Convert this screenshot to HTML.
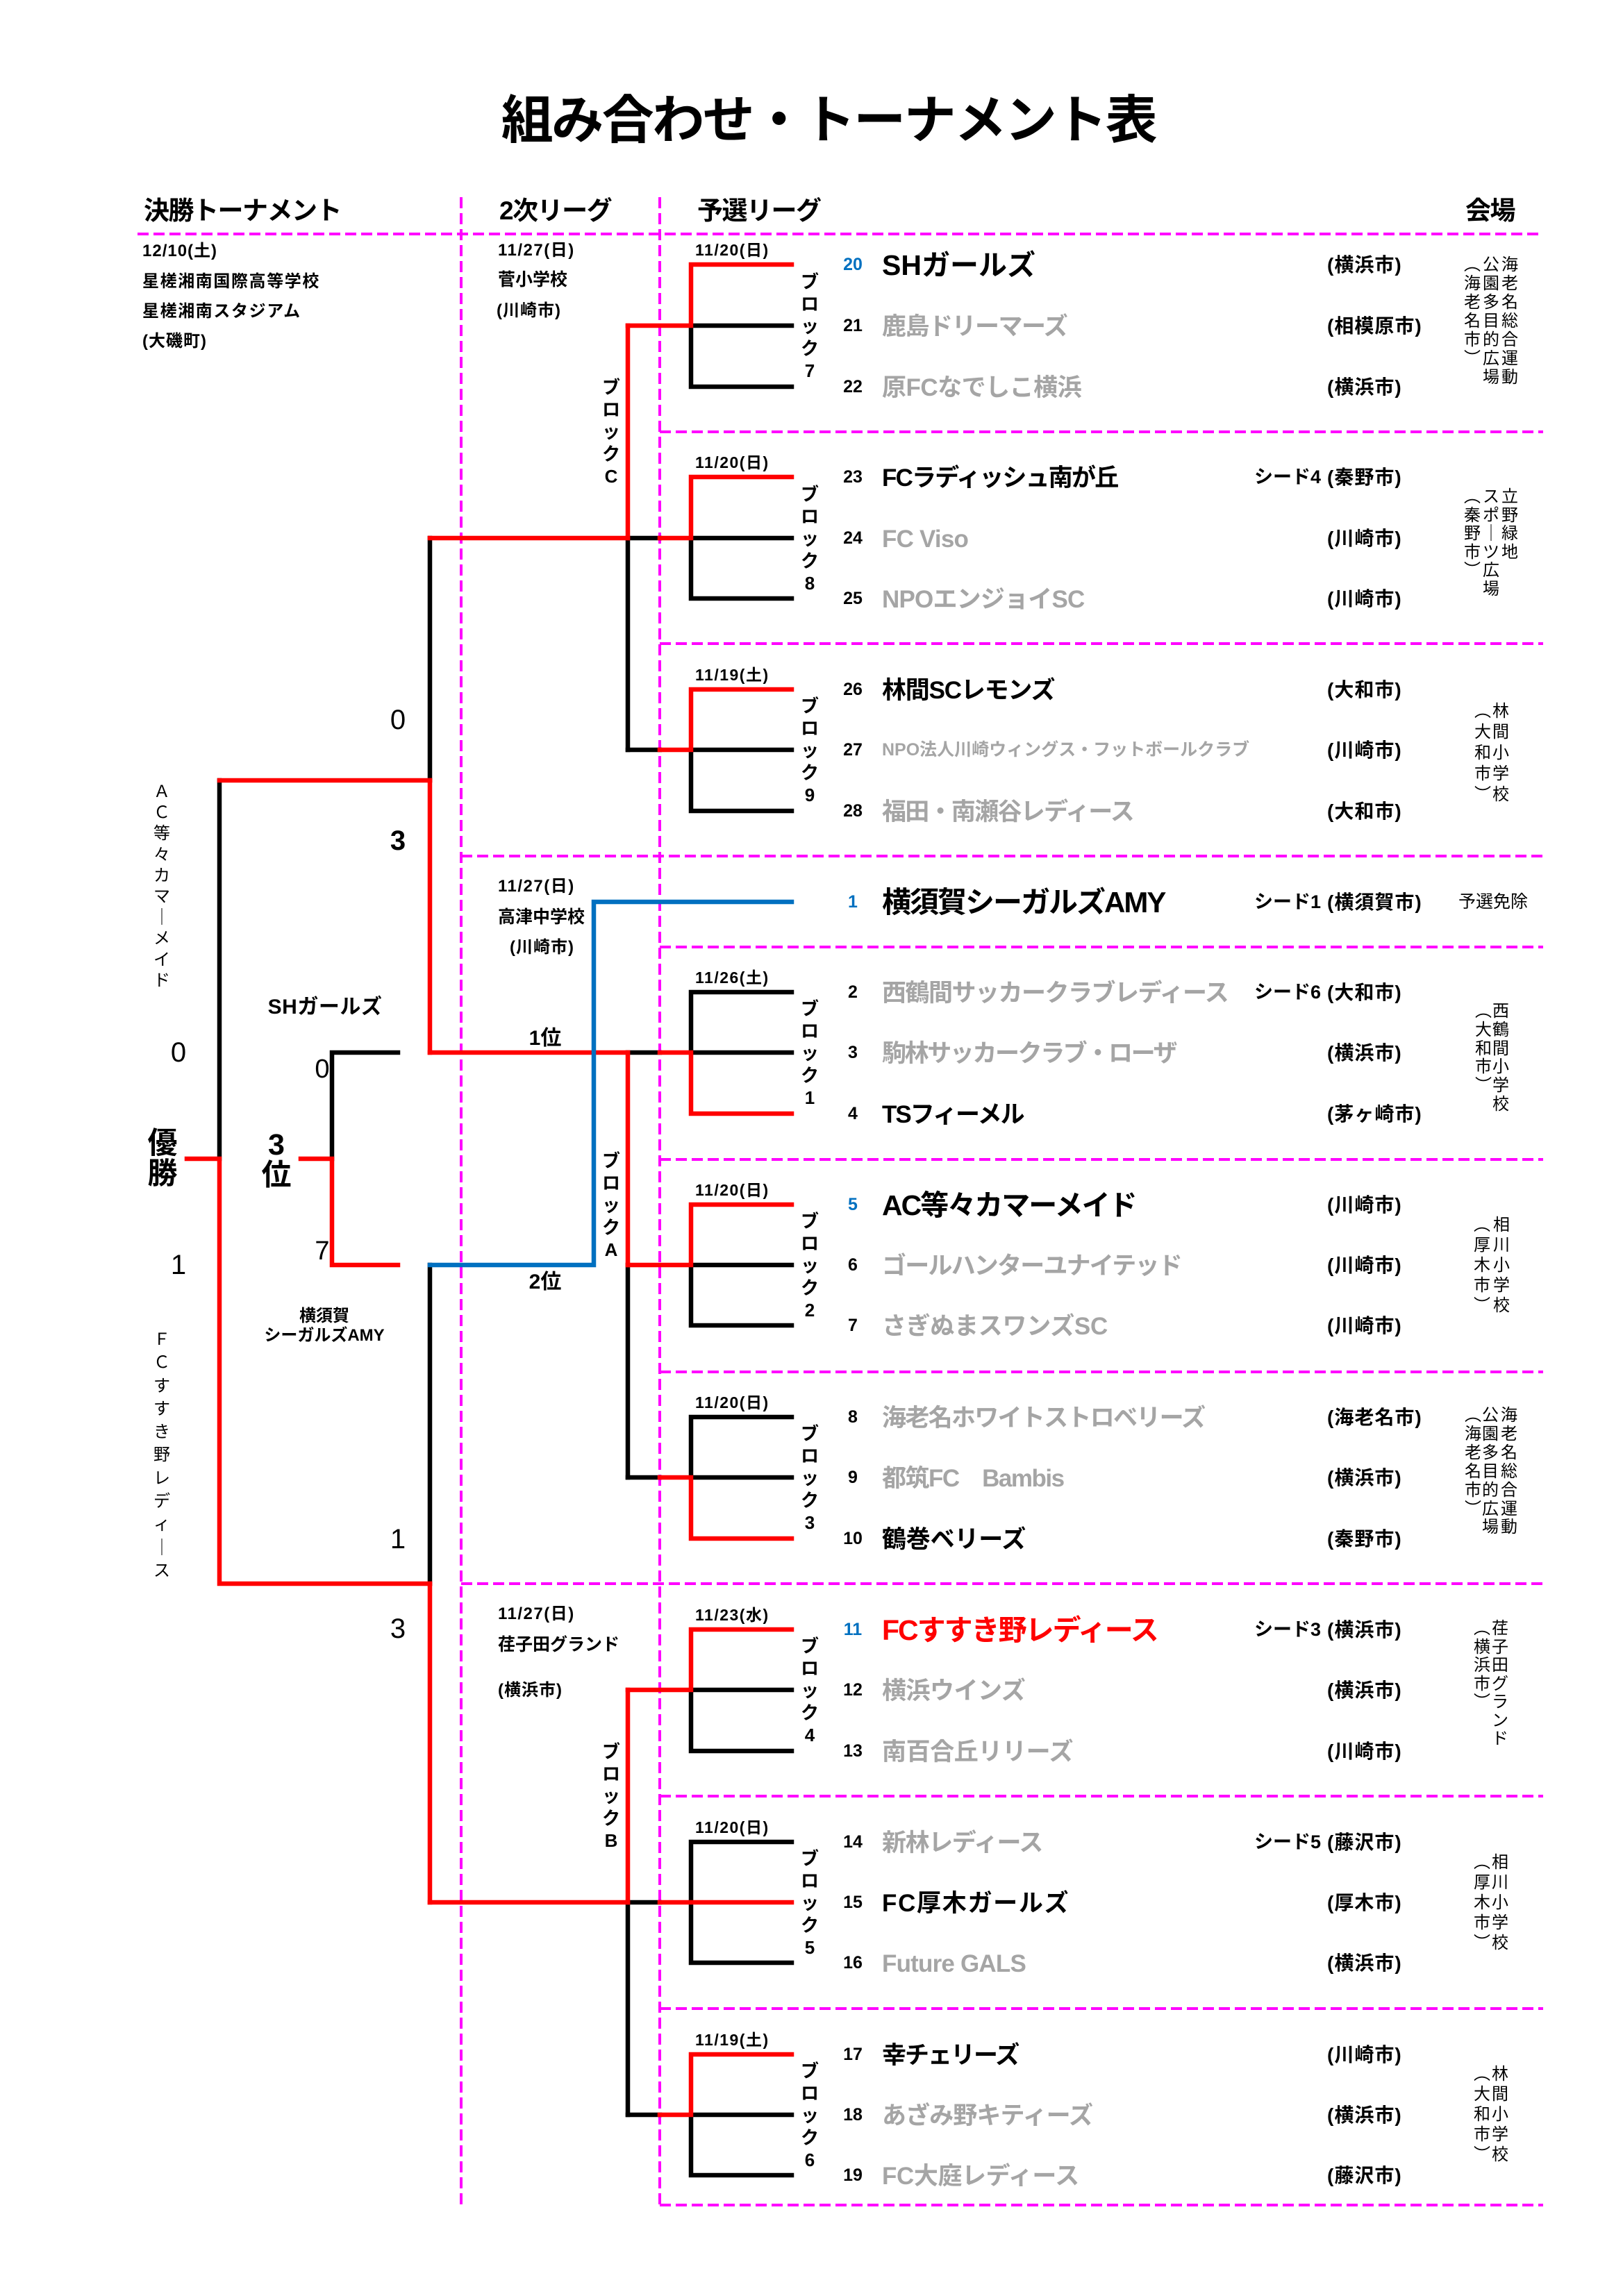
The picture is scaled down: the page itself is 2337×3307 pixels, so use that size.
<!DOCTYPE html>
<html lang="ja">
<head>
<meta charset="utf-8">
<style>
html,body{margin:0;padding:0;background:#fff;}
#pg{position:relative;width:2337px;height:3307px;overflow:hidden;background:#fff;font-family:"Liberation Sans","Noto Sans CJK JP",sans-serif;color:#000;}
.t{position:absolute;white-space:nowrap;line-height:1;}
.b{font-weight:bold;}
.g{color:#a5a5a5;}
.n{position:absolute;left:1200px;width:56px;text-align:center;font-size:25px;font-weight:bold;line-height:1;}
.bl{color:#0070c0;}
.nm{position:absolute;left:1270px;font-size:35px;font-weight:bold;line-height:1;white-space:nowrap;}
.c{position:absolute;left:1911px;font-size:28px;font-weight:bold;letter-spacing:1px;line-height:1;white-space:nowrap;}
.s{position:absolute;left:1806px;font-size:27px;font-weight:bold;line-height:1;white-space:nowrap;}
.d{position:absolute;left:1001px;font-size:23px;font-weight:bold;letter-spacing:1.5px;line-height:1;white-space:nowrap;}
.bk{position:absolute;left:1146px;width:40px;text-align:center;font-size:26px;font-weight:bold;line-height:32px;}
.bk2{position:absolute;left:860px;width:40px;text-align:center;font-size:26px;font-weight:bold;line-height:32px;}
.v{position:absolute;width:30px;text-align:center;font-size:24px;}
.sc{position:absolute;width:40px;text-align:center;font-size:40px;line-height:1;}
.h{position:absolute;font-size:37px;font-weight:bold;letter-spacing:-1.5px;line-height:1;white-space:nowrap;top:285px;}
.l1{position:absolute;left:205px;font-size:24px;font-weight:bold;line-height:1;white-space:nowrap;}
.l2{position:absolute;left:717px;font-size:24px;font-weight:bold;line-height:1;white-space:nowrap;}
</style>
</head>
<body>
<div id="pg">

<svg width="2337" height="3307" style="position:absolute;left:0;top:0">
<g stroke="#ff00ff" stroke-width="4" stroke-dasharray="16 7" fill="none">
<path d="M198 337H2222"/>
<path d="M950 622H2222"/>
<path d="M950 927H2222"/>
<path d="M664 1233H2222"/>
<path d="M950 1364H2222"/>
<path d="M950 1670H2222"/>
<path d="M950 1976H2222"/>
<path d="M664 2281H2222"/>
<path d="M950 2587H2222"/>
<path d="M950 2893H2222"/>
<path d="M950 3176H2222"/>
<path d="M664 284V3176"/>
<path d="M950 284V3176"/>
</g>
<g stroke="#000" stroke-width="6.5" stroke-linecap="square" fill="none">
<path d="M995 469V557M995 557H1140M995 469H1140"/>
<path d="M995 775V862M995 862H1140M995 775H1140M904 775H950"/>
<path d="M995 1080V1168M995 1168H1140M995 1080H1140M904 1080H950"/>
<path d="M995 1429H1140M995 1429V1516M995 1516H1140M904 1516H950"/>
<path d="M995 1822V1909M995 1909H1140M995 1822H1140"/>
<path d="M995 2041H1140M995 2041V2128M995 2128H1140M904 2128H950"/>
<path d="M995 2434V2522M995 2522H1140M995 2434H1140"/>
<path d="M995 2653H1140M995 2653V2827M995 2827H1140M904 2740H950"/>
<path d="M995 3046V3133M995 3133H1140M995 3046H1140M904 3046H950"/>
<path d="M904 775V1080M904 1822V2128M904 2740V3046"/>
<path d="M619 775V1124M619 1822V2281"/>
<path d="M316 1124V1669"/>
<path d="M478 1516H573M478 1516V1669"/>
</g>
<g stroke="#ff0000" stroke-width="6.5" stroke-linecap="square" fill="none">
<path d="M995 381H1140M995 381V469M904 469H995"/>
<path d="M995 687H1140M995 687V775M950 775H995"/>
<path d="M995 993H1140M995 993V1080M950 1080H995"/>
<path d="M995 1516V1604M995 1604H1140M950 1516H995"/>
<path d="M995 1735H1140M995 1735V1822M904 1822H995"/>
<path d="M995 2128V2216M995 2216H1140M950 2128H995"/>
<path d="M995 2347H1140M995 2347V2434M904 2434H995"/>
<path d="M950 2740H1140"/>
<path d="M995 2959H1140M995 2959V3046M950 3046H995"/>
<path d="M904 469V775M904 1516V1822M904 2434V2740"/>
<path d="M619 775H904M619 1516H904M619 2740H904"/>
<path d="M619 1124V1516M619 2281V2740"/>
<path d="M316 1124H619M316 2281H619M316 1669V2281M269 1669H316"/>
<path d="M478 1822H573M478 1669V1822M433 1669H478"/>
</g>
<g stroke="#0070c0" stroke-width="6.5" stroke-linecap="square" fill="none">
<path d="M619 1822H855V1299H1140"/>
</g>
</svg>

<!-- Title -->
<div class="t b" style="left:0;width:2386px;text-align:center;top:136px;font-size:75px;letter-spacing:-2.5px;">組み合わせ・トーナメント表</div>

<!-- Headers -->
<div class="h" style="left:207px;">決勝トーナメント</div>
<div class="h" style="left:719px;">2次リーグ</div>
<div class="h" style="left:1004px;">予選リーグ</div>
<div class="h" style="left:2110px;">会場</div>

<!-- Column 1 -->
<div class="l1" style="top:350px;letter-spacing:1px;">12/10(土)</div>
<div class="l1" style="top:394px;letter-spacing:1.6px;">星槎湘南国際高等学校</div>
<div class="l1" style="top:437px;letter-spacing:1.6px;">星槎湘南スタジアム</div>
<div class="l1" style="top:480px;letter-spacing:1px;">(大磯町)</div>

<!-- Column 2 -->
<div class="l2" style="top:349px;letter-spacing:1.5px;">11/27(日)</div>
<div class="l2" style="top:391px;font-size:25px;">菅小学校</div>
<div class="l2" style="top:436px;left:715px;letter-spacing:1px;">(川崎市)</div>

<div class="l2" style="top:1265px;letter-spacing:1.5px;">11/27(日)</div>
<div class="l2" style="top:1309px;font-size:25px;">高津中学校</div>
<div class="l2" style="top:1353px;left:734px;letter-spacing:1px;">(川崎市)</div>

<div class="l2" style="top:2313px;letter-spacing:1.5px;">11/27(日)</div>
<div class="l2" style="top:2357px;font-size:25px;">荏子田グランド</div>
<div class="l2" style="top:2423px;letter-spacing:1px;">(横浜市)</div>

<!-- Dates -->
<div class="d" style="top:349px;">11/20(日)</div>
<div class="d" style="top:655px;">11/20(日)</div>
<div class="d" style="top:961px;">11/19(土)</div>
<div class="d" style="top:1397px;">11/26(土)</div>
<div class="d" style="top:1703px;">11/20(日)</div>
<div class="d" style="top:2009px;">11/20(日)</div>
<div class="d" style="top:2315px;">11/23(水)</div>
<div class="d" style="top:2621px;">11/20(日)</div>
<div class="d" style="top:2927px;">11/19(土)</div>

<!-- Block labels -->
<div class="bk" style="top:390px;">ブ<br>ロ<br>ッ<br>ク<br>7</div>
<div class="bk" style="top:696px;">ブ<br>ロ<br>ッ<br>ク<br>8</div>
<div class="bk" style="top:1001px;">ブ<br>ロ<br>ッ<br>ク<br>9</div>
<div class="bk" style="top:1437px;">ブ<br>ロ<br>ッ<br>ク<br>1</div>
<div class="bk" style="top:1743px;">ブ<br>ロ<br>ッ<br>ク<br>2</div>
<div class="bk" style="top:2049px;">ブ<br>ロ<br>ッ<br>ク<br>3</div>
<div class="bk" style="top:2355px;">ブ<br>ロ<br>ッ<br>ク<br>4</div>
<div class="bk" style="top:2661px;">ブ<br>ロ<br>ッ<br>ク<br>5</div>
<div class="bk" style="top:2967px;">ブ<br>ロ<br>ッ<br>ク<br>6</div>

<div class="bk2" style="top:542px;">ブ<br>ロ<br>ッ<br>ク<br>C</div>
<div class="bk2" style="top:1656px;">ブ<br>ロ<br>ッ<br>ク<br>A</div>
<div class="bk2" style="top:2507px;">ブ<br>ロ<br>ッ<br>ク<br>B</div>

<!-- Final area -->
<div class="sc" style="left:553px;top:1017px;">0</div>
<div class="sc b" style="left:553px;top:1191px;">3</div>
<div class="sc" style="left:553px;top:2197px;">1</div>
<div class="sc" style="left:553px;top:2326px;">3</div>
<div class="sc" style="left:237px;top:1496px;">0</div>
<div class="sc" style="left:237px;top:1802px;">1</div>
<div class="sc" style="left:446px;top:1521px;width:36px;font-size:38px;">0</div>
<div class="sc" style="left:446px;top:1783px;width:36px;font-size:38px;">7</div>

<div class="t b" style="left:212px;width:44px;text-align:center;top:1625px;font-size:43px;line-height:44px;white-space:normal;">優<br>勝</div>
<div class="t b" style="left:376px;width:44px;text-align:center;top:1627px;font-size:43px;line-height:44px;white-space:normal;">3<br>位</div>

<div class="t b" style="left:368px;width:200px;text-align:center;top:1436px;font-size:30px;letter-spacing:0.5px;">SHガールズ</div>
<div class="t b" style="left:367px;width:200px;text-align:center;top:1884px;font-size:24px;">横須賀</div>
<div class="t b" style="left:367px;width:200px;text-align:center;top:1912px;font-size:24px;">シーガルズAMY</div>

<div class="t b" style="left:735px;width:100px;text-align:center;top:1481px;font-size:30px;">1位</div>
<div class="t b" style="left:735px;width:100px;text-align:center;top:1832px;font-size:30px;">2位</div>

<div class="v" style="left:218px;top:1126px;line-height:30.2px;">Ａ<br>Ｃ<br>等<br>々<br>カ<br>マ<br>｜<br>メ<br>イ<br>ド</div>
<div class="v" style="left:218px;top:1913px;line-height:33.3px;">Ｆ<br>Ｃ<br>す<br>す<br>き<br>野<br>レ<br>デ<br>ィ<br>｜<br>ス</div>

<!-- Venues -->
<div class="v" style="left:2159px;top:368px;line-height:27px;">海<br>老<br>名<br>総<br>合<br>運<br>動</div>
<div class="v" style="left:2132px;top:368px;line-height:27px;">公<br>園<br>多<br>目<br>的<br>広<br>場</div>
<div class="v" style="left:2105px;top:368px;line-height:27px;">︵<br>海<br>老<br>名<br>市<br>︶</div>

<div class="v" style="left:2159px;top:703px;line-height:26.5px;">立<br>野<br>緑<br>地</div>
<div class="v" style="left:2132px;top:703px;line-height:26.5px;">ス<br>ポ<br>｜<br>ツ<br>広<br>場</div>
<div class="v" style="left:2105px;top:703px;line-height:26.5px;">︵<br>秦<br>野<br>市<br>︶</div>

<div class="v" style="left:2146px;top:1010px;line-height:30px;">林<br>間<br>小<br>学<br>校</div>
<div class="v" style="left:2120px;top:1010px;line-height:30px;">︵<br>大<br>和<br>市<br>︶</div>

<div class="t" style="left:2100px;top:1287px;font-size:25px;">予選免除</div>

<div class="v" style="left:2146px;top:1444px;line-height:26.8px;">西<br>鶴<br>間<br>小<br>学<br>校</div>
<div class="v" style="left:2121px;top:1444px;line-height:26.8px;">︵<br>大<br>和<br>市<br>︶</div>

<div class="v" style="left:2147px;top:1750px;line-height:29px;">相<br>川<br>小<br>学<br>校</div>
<div class="v" style="left:2119px;top:1750px;line-height:29px;">︵<br>厚<br>木<br>市<br>︶</div>

<div class="v" style="left:2158px;top:2026px;line-height:26.9px;">海<br>老<br>名<br>総<br>合<br>運<br>動</div>
<div class="v" style="left:2131px;top:2026px;line-height:26.9px;">公<br>園<br>多<br>目<br>的<br>広<br>場</div>
<div class="v" style="left:2106px;top:2026px;line-height:26.9px;">︵<br>海<br>老<br>名<br>市<br>︶</div>

<div class="v" style="left:2145px;top:2333px;line-height:26.5px;">荏<br>子<br>田<br>グ<br>ラ<br>ン<br>ド</div>
<div class="v" style="left:2119px;top:2333px;line-height:26.5px;">︵<br>横<br>浜<br>市<br>︶</div>

<div class="v" style="left:2145px;top:2668px;line-height:29px;">相<br>川<br>小<br>学<br>校</div>
<div class="v" style="left:2119px;top:2668px;line-height:29px;">︵<br>厚<br>木<br>市<br>︶</div>

<div class="v" style="left:2145px;top:2973px;line-height:29px;">林<br>間<br>小<br>学<br>校</div>
<div class="v" style="left:2119px;top:2973px;line-height:29px;">︵<br>大<br>和<br>市<br>︶</div>

<!-- Team rows -->
<!-- Block 7 -->
<div class="n bl" style="top:369px;">20</div>
<div class="nm" style="top:362px;font-size:41px;letter-spacing:0px;">SHガールズ</div>
<div class="c" style="top:368px;">(横浜市)</div>

<div class="n" style="top:457px;">21</div>
<div class="nm g" style="top:453px;letter-spacing:-1.5px;">鹿島ドリーマーズ</div>
<div class="c" style="top:456px;">(相模原市)</div>

<div class="n" style="top:545px;">22</div>
<div class="nm g" style="top:541px;letter-spacing:-0.5px;">原FCなでしこ横浜</div>
<div class="c" style="top:544px;">(横浜市)</div>

<!-- Block 8 -->
<div class="n" style="top:675px;">23</div>
<div class="nm" style="top:671px;letter-spacing:-1.8px;">FCラディッシュ南が丘</div>
<div class="s" style="top:674px;">シード4</div>
<div class="c" style="top:674px;">(秦野市)</div>

<div class="n" style="top:763px;">24</div>
<div class="nm g" style="top:759px;letter-spacing:-0.8px;">FC Viso</div>
<div class="c" style="top:762px;">(川崎市)</div>

<div class="n" style="top:850px;">25</div>
<div class="nm g" style="top:846px;letter-spacing:-0.8px;">NPOエンジョイSC</div>
<div class="c" style="top:849px;">(川崎市)</div>

<!-- Block 9 -->
<div class="n" style="top:981px;">26</div>
<div class="nm" style="top:977px;letter-spacing:-1.2px;">林間SCレモンズ</div>
<div class="c" style="top:980px;">(大和市)</div>

<div class="n" style="top:1068px;">27</div>
<div class="nm g" style="top:1068px;font-size:25px;">NPO法人川崎ウィングス・フットボールクラブ</div>
<div class="c" style="top:1067px;">(川崎市)</div>

<div class="n" style="top:1156px;">28</div>
<div class="nm g" style="top:1152px;letter-spacing:-1.7px;">福田・南瀬谷レディース</div>
<div class="c" style="top:1155px;">(大和市)</div>

<!-- Seed 1 -->
<div class="n bl" style="top:1287px;">1</div>
<div class="nm" style="top:1279px;font-size:42px;letter-spacing:-2px;">横須賀シーガルズAMY</div>
<div class="s" style="top:1286px;">シード1</div>
<div class="c" style="top:1286px;">(横須賀市)</div>

<!-- Block 1 -->
<div class="n" style="top:1417px;">2</div>
<div class="nm g" style="top:1413px;letter-spacing:-1.5px;">西鶴間サッカークラブレディース</div>
<div class="s" style="top:1416px;">シード6</div>
<div class="c" style="top:1416px;">(大和市)</div>

<div class="n" style="top:1504px;">3</div>
<div class="nm g" style="top:1500px;letter-spacing:-2.4px;">駒林サッカークラブ・ローザ</div>
<div class="c" style="top:1503px;">(横浜市)</div>

<div class="n" style="top:1592px;">4</div>
<div class="nm" style="top:1588px;letter-spacing:-2px;">TSフィーメル</div>
<div class="c" style="top:1591px;">(茅ヶ崎市)</div>

<!-- Block 2 -->
<div class="n bl" style="top:1723px;">5</div>
<div class="nm" style="top:1716px;font-size:41px;letter-spacing:-2px;">AC等々カマーメイド</div>
<div class="c" style="top:1722px;">(川崎市)</div>

<div class="n" style="top:1810px;">6</div>
<div class="nm g" style="top:1806px;letter-spacing:-1.8px;">ゴールハンターユナイテッド</div>
<div class="c" style="top:1809px;">(川崎市)</div>

<div class="n" style="top:1897px;">7</div>
<div class="nm g" style="top:1893px;letter-spacing:-0.3px;">さぎぬまスワンズSC</div>
<div class="c" style="top:1896px;">(川崎市)</div>

<!-- Block 3 -->
<div class="n" style="top:2029px;">8</div>
<div class="nm g" style="top:2025px;letter-spacing:-1.7px;">海老名ホワイトストロベリーズ</div>
<div class="c" style="top:2028px;">(海老名市)</div>

<div class="n" style="top:2116px;">9</div>
<div class="nm g" style="top:2112px;letter-spacing:-1.5px;">都筑FC　Bambis</div>
<div class="c" style="top:2115px;">(横浜市)</div>

<div class="n" style="top:2204px;">10</div>
<div class="nm" style="top:2200px;letter-spacing:-0.2px;">鶴巻ベリーズ</div>
<div class="c" style="top:2203px;">(秦野市)</div>

<!-- Block 4 -->
<div class="n bl" style="top:2335px;">11</div>
<div class="nm" style="top:2328px;font-size:41px;letter-spacing:-2px;color:#ff0000;">FCすすき野レディース</div>
<div class="s" style="top:2334px;">シード3</div>
<div class="c" style="top:2334px;">(横浜市)</div>

<div class="n" style="top:2422px;">12</div>
<div class="nm g" style="top:2418px;letter-spacing:-0.5px;">横浜ウインズ</div>
<div class="c" style="top:2421px;">(横浜市)</div>

<div class="n" style="top:2510px;">13</div>
<div class="nm g" style="top:2506px;letter-spacing:-0.4px;">南百合丘リリーズ</div>
<div class="c" style="top:2509px;">(川崎市)</div>

<!-- Block 5 -->
<div class="n" style="top:2641px;">14</div>
<div class="nm g" style="top:2637px;letter-spacing:-1.4px;">新林レディース</div>
<div class="s" style="top:2640px;">シード5</div>
<div class="c" style="top:2640px;">(藤沢市)</div>

<div class="n" style="top:2728px;">15</div>
<div class="nm" style="top:2724px;letter-spacing:1.7px;">FC厚木ガールズ</div>
<div class="c" style="top:2727px;">(厚木市)</div>

<div class="n" style="top:2815px;">16</div>
<div class="nm g" style="top:2811px;letter-spacing:-0.8px;">Future GALS</div>
<div class="c" style="top:2814px;">(横浜市)</div>

<!-- Block 6 -->
<div class="n" style="top:2947px;">17</div>
<div class="nm" style="top:2943px;letter-spacing:-2px;">幸チェリーズ</div>
<div class="c" style="top:2946px;">(川崎市)</div>

<div class="n" style="top:3034px;">18</div>
<div class="nm g" style="top:3030px;letter-spacing:-0.9px;">あざみ野キティーズ</div>
<div class="c" style="top:3033px;">(横浜市)</div>

<div class="n" style="top:3121px;">19</div>
<div class="nm g" style="top:3117px;letter-spacing:-0.4px;">FC大庭レディース</div>
<div class="c" style="top:3120px;">(藤沢市)</div>

</div>
</body>
</html>
